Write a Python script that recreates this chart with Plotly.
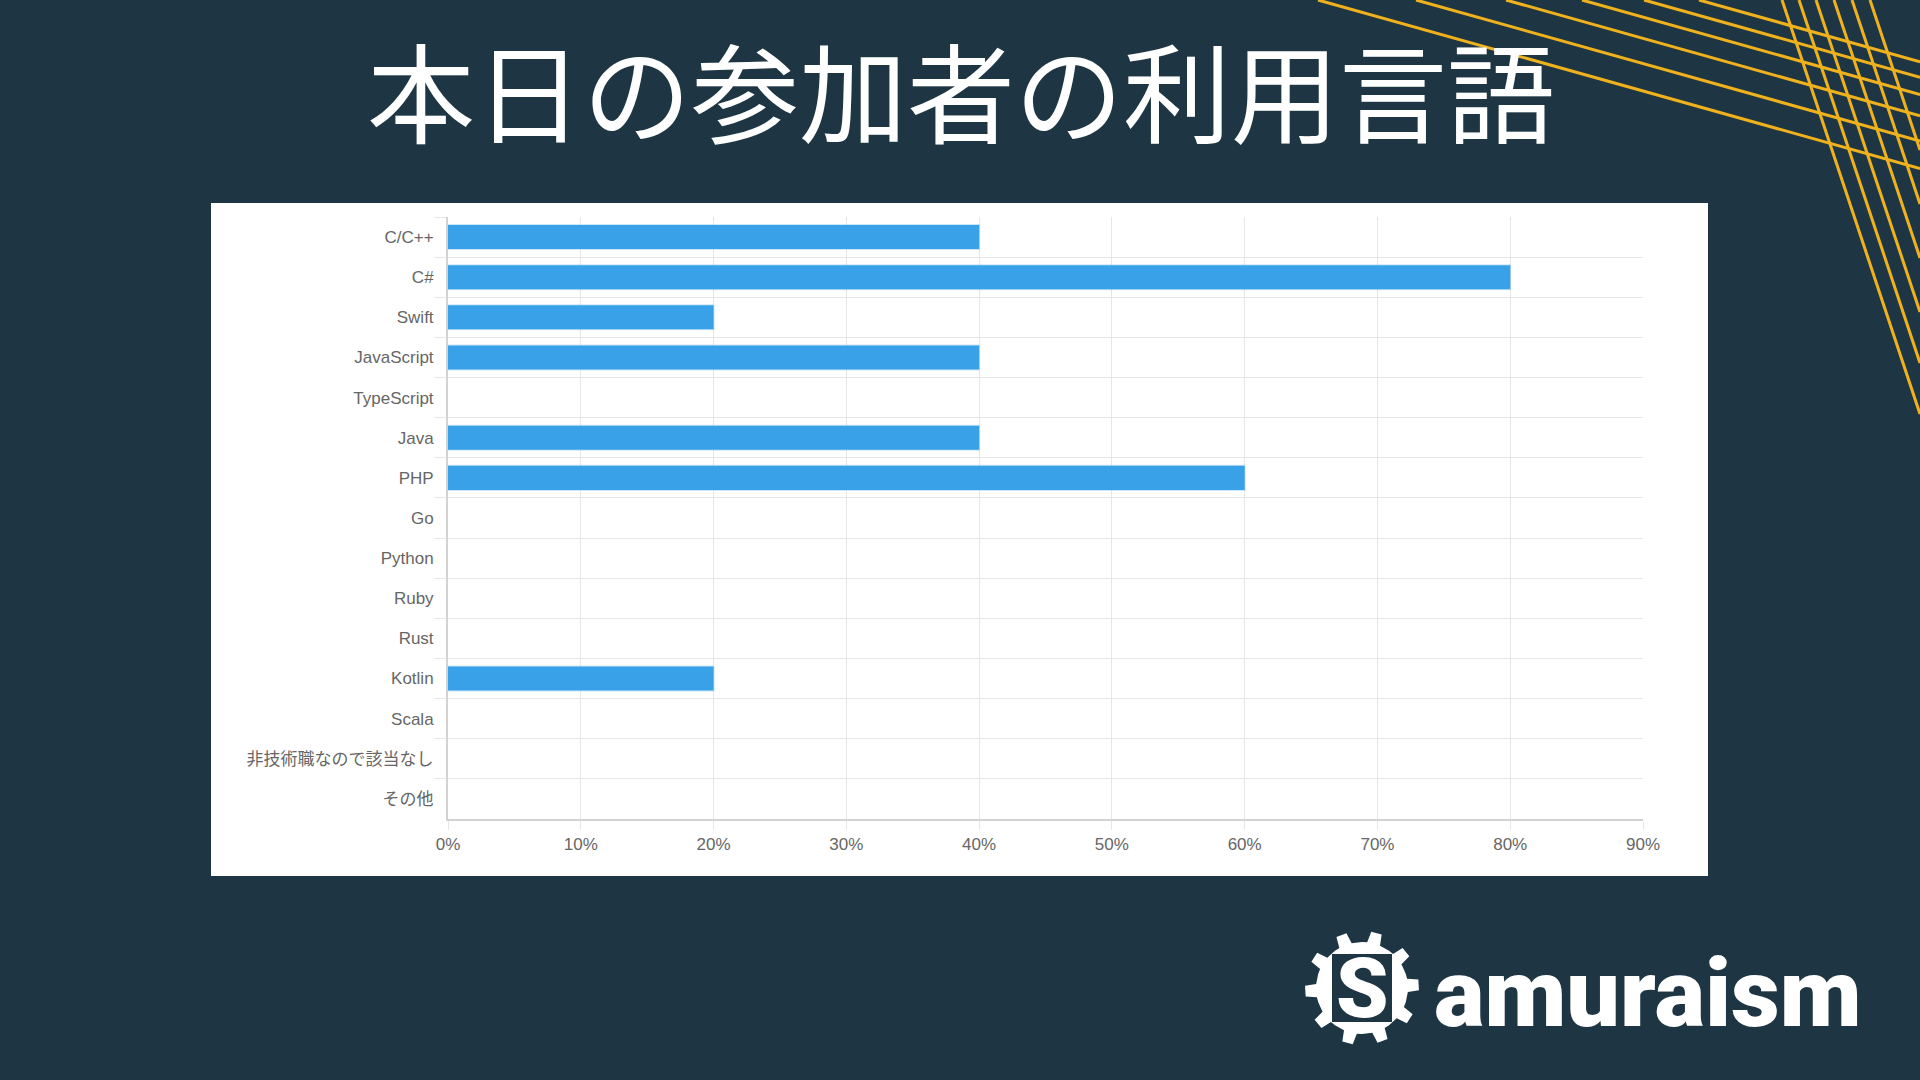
import numpy as np
import plotly.graph_objects as go

# chart data
languages = ['C/C++', 'C#', 'Swift', 'JavaScript', 'TypeScript', 'Java', 'PHP', 'Go',
             'Python', 'Ruby', 'Rust', 'Kotlin', 'Scala', '非技術職なので該当なし', 'その他']
share_pct = [40, 80, 20, 40, 0, 40, 60, 0, 0, 0, 0, 20, 0, 0, 0]
x_ticks = [0, 10, 20, 30, 40, 50, 60, 70, 80, 90]
x_tick_labels = ['0%', '10%', '20%', '30%', '40%', '50%', '60%', '70%', '80%', '90%']
title_text = '本日の参加者の利用言語'
logo_text = 'amuraism'

W, H = 1920, 1080
BG = '#1e3643'
GOLD = '#f0b21c'

# plot area in pixels
L, R, T, B = 448, 1643, 217, 819


def px(x):
    return (x - L) / (R - L)


def py(y):
    return (B - y) / (B - T)


fig = go.Figure()

# no outline on empty bars, otherwise a sliver shows at 0%
outline_w = [2 if v > 0 else 0 for v in share_pct]

fig.add_trace(go.Bar(
    x=share_pct,
    y=languages,
    orientation='h',
    marker=dict(color='#39a1e8', line=dict(color='rgba(54,162,235,0.25)', width=outline_w)),
    hoverinfo='x+y',
))

shapes = []

# white card behind the chart
shapes.append(dict(type='rect', xref='paper', yref='paper', layer='below',
                   x0=px(211), x1=px(1708), y0=py(876), y1=py(203),
                   fillcolor='white', line=dict(width=0)))

# gold lines in the top right corner
for top_x in [1318, 1416, 1506, 1582, 1644, 1699]:
    shapes.append(dict(type='line', xref='paper', yref='paper',
                       x0=px(top_x), y0=py(0), x1=px(W), y1=py(0.28 * (W - top_x)),
                       line=dict(color=GOLD, width=3)))
for top_x in [1782, 1799, 1816, 1834, 1852, 1870]:
    shapes.append(dict(type='line', xref='paper', yref='paper',
                       x0=px(top_x), y0=py(0), x1=px(W), y1=py(3.0 * (W - top_x)),
                       line=dict(color=GOLD, width=3)))

# gear of the logo
cx, cy = 1362, 988
n_teeth = 10
pts = []
for k in range(n_teeth):
    a0 = 2 * np.pi * k / n_teeth
    step = 2 * np.pi / n_teeth
    for frac, r in [(0.0, 46), (0.18, 46), (0.26, 57), (0.56, 57), (0.64, 46), (1.0, 46)]:
        a = a0 + frac * step - np.pi / 2
        pts.append((cx + r * np.cos(a), cy + r * np.sin(a)))
path = 'M ' + ' L '.join(f'{px(x):.5f},{py(y):.5f}' for x, y in pts) + ' Z'
shapes.append(dict(type='path', xref='paper', yref='paper', path=path,
                   fillcolor='white', line=dict(width=0)))
shapes.append(dict(type='rect', xref='paper', yref='paper',
                   x0=px(cx - 30), x1=px(cx + 30), y0=py(cy + 34), y1=py(cy - 34),
                   fillcolor=BG, line=dict(width=0)))

annotations = [
    dict(text=title_text, xref='paper', yref='paper', x=px(961), y=py(88),
         xanchor='center', yanchor='middle', showarrow=False,
         font=dict(family='Noto Sans CJK JP', size=108, color='white', weight=400)),
    dict(text='S', xref='paper', yref='paper', x=px(cx), y=py(cy),
         xanchor='center', yanchor='middle', showarrow=False,
         font=dict(family='Roboto', size=84, color='white', weight=900)),
    dict(text=logo_text, xref='paper', yref='paper', x=px(1648), y=py(993),
         xanchor='center', yanchor='middle', showarrow=False,
         font=dict(family='Roboto', size=95, color='white', weight=900)),
]

fig.update_layout(
    width=W, height=H,
    margin=dict(l=L, r=W - R, t=T, b=H - B, pad=0),
    paper_bgcolor=BG,
    plot_bgcolor='white',
    showlegend=False,
    bargap=0.4,
    shapes=shapes,
    annotations=annotations,
    font=dict(family='Liberation Sans, Noto Sans CJK JP', size=17, color='#666666'),
)

fig.update_xaxes(
    range=[0, 90], tickmode='array', tickvals=x_ticks, ticktext=x_tick_labels,
    showgrid=True, gridcolor='#e6e6e6', gridwidth=1,
    zeroline=False, showline=True, linecolor='#d2d2d2', linewidth=2,
    ticks='outside', ticklen=9, tickcolor='#e6e6e6',
    tickfont=dict(size=17, color='#666666'),
)

fig.update_yaxes(
    type='category', categoryorder='array', categoryarray=languages,
    autorange='reversed', tickson='boundaries',
    showgrid=True, gridcolor='#e6e6e6', gridwidth=1,
    showline=True, linecolor='#d2d2d2', linewidth=2,
    ticks='outside', ticklen=12, tickcolor='#e6e6e6', ticklabelstandoff=9,
    tickfont=dict(size=17, color='#666666'),
)

# page has a default body margin, drop it so the slide fills the window
fig.write_html('out.html', config={'displayModeBar': False},
               post_script="document.body.style.margin='0';")
